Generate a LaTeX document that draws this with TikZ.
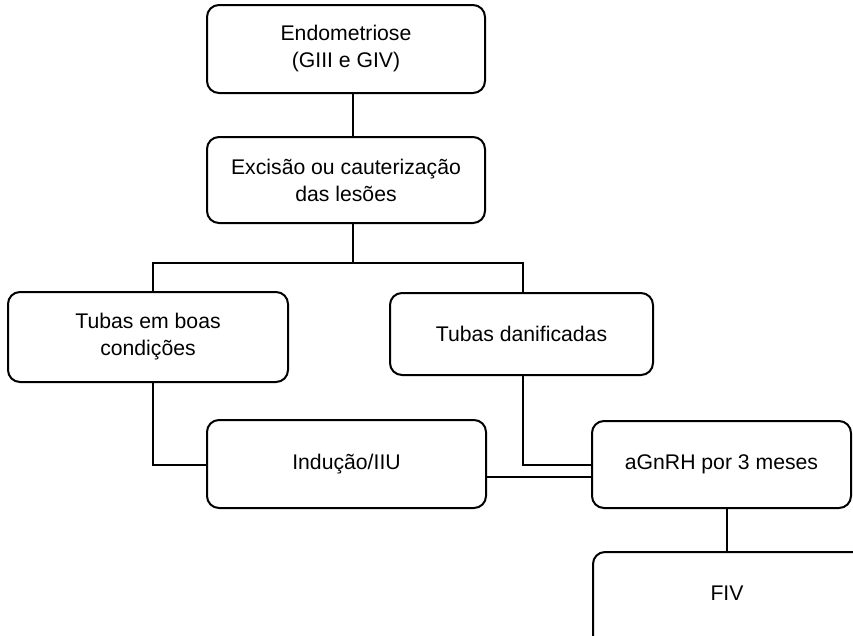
\documentclass[tikz,border=0pt]{standalone}
\usepackage{fontspec}
\setmainfont{Liberation Sans}
\begin{document}
\begin{tikzpicture}[x=1pt,y=-1pt,
  flowbox/.style={draw=black, line width=2pt, rounded corners=12pt, inner sep=0pt,
    align=center, font=\fontsize{21.2}{27}\selectfont, fill=white},
  boxtext/.style={inner sep=0pt, align=center, font=\fontsize{21.2}{27}\selectfont},
  link/.style={draw=black, line width=2pt}]
  \fill[white] (0,0) rectangle (853,635);
  \useasboundingbox (0,0) rectangle (853,635);
  \clip (0,0) rectangle (853,635);

  % boxes
  \node[flowbox, minimum width=278pt, minimum height=88pt] (b1) at (346,49) {Endometriose\\(GIII e GIV)};
  \node[flowbox, minimum width=278pt, minimum height=86pt] (b2) at (346,180) {Excisão ou cauterização\\das lesões};
  \node[flowbox, minimum width=280pt, minimum height=90pt] (b3) at (148,337) {Tubas em boas\\condições};
  \node[flowbox, minimum width=263pt, minimum height=82pt] (b4) at (521.5,334) {Tubas danificadas};
  \node[flowbox, minimum width=279pt, minimum height=88pt] (b5) at (346.5,464) {Indução/IIU};
  \node[flowbox, minimum width=259pt, minimum height=87pt] (b6) at (721.5,464.5) {aGnRH por 3 meses};
  % the last box runs off the lower right edge of the page
  \node[flowbox, minimum width=290pt, minimum height=130pt, anchor=north west] (b7) at (592,551) {};
  \node[boxtext] (b7text) at (727,593) {FIV};

  % connector anchors
  \coordinate (fork) at (353,263);
  \coordinate (forkL) at (153,263);
  \coordinate (forkR) at (523,263);
  \coordinate (elbowL) at (153,465);
  \coordinate (elbowR) at (523,465);
  \coordinate (midlink) at (540,477);
  \coordinate (fivx) at (727,0);

  % connectors
  \draw[link] (b1.south -| fork) -- (b2.north -| fork);
  \draw[link] (b2.south -| fork) -- (fork);
  \draw[link] (b3.north -| forkL) -- (forkL) -- (forkR) -- (b4.north -| forkR);
  \draw[link] (b3.south -| elbowL) -- (elbowL) -- (b5.west |- elbowL);
  \draw[link] (b4.south -| elbowR) -- (elbowR) -- (b6.west |- elbowR);
  \draw[link] (b5.east |- midlink) -- (b6.west |- midlink);
  \draw[link] (b6.south -| fivx) -- (b7.north -| fivx);
\end{tikzpicture}
\end{document}
